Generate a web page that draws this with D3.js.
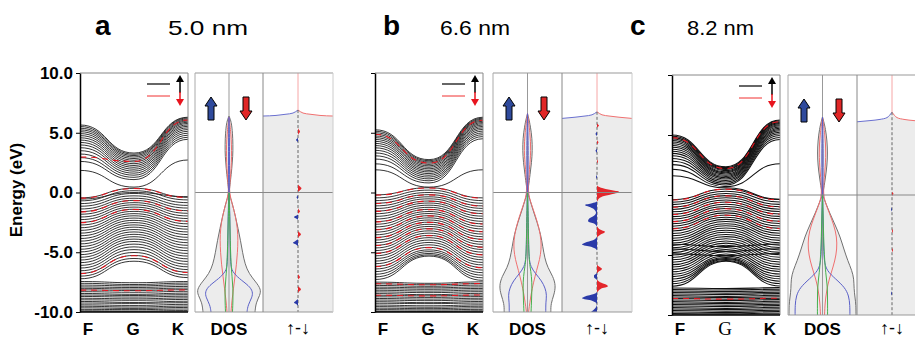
<!DOCTYPE html>
<html>
<head>
<meta charset="utf-8">
<script src="https://cdn.jsdelivr.net/npm/d3@7"></script>
<style>
body{margin:0;background:#fff}
svg{display:block;font-family:"Liberation Sans",Arial,sans-serif}
</style>
</head>
<body>
<svg id="fig" width="915" height="339"></svg>
<script>
// ---- data: band energies (eV) at F, G, K ----
var aCond = [[5.65,3.30,6.30],[5.52,3.20,6.24],[5.38,3.09,6.16],[5.24,2.97,6.07],[5.09,2.84,5.98],[4.93,2.70,5.88],
  [4.76,2.56,5.78],[4.58,2.41,5.66],[4.39,2.26,5.54],[4.19,2.11,5.41],[3.98,1.95,5.27],[3.75,1.79,5.12],
  [3.50,1.62,4.96],[3.22,1.45,4.79],[2.92,1.27,4.62],[2.60,1.08,4.45],[1.85,0.45,2.72]]
var aVal = [[-0.45,0.35,-0.40],[-0.70,0.15,-0.62],[-0.93,-0.08,-0.85],[-1.15,-0.28,-1.08],[-1.38,-0.48,-1.30],
  [-1.60,-0.66,-1.52],[-1.82,-0.85,-1.74],[-2.05,-1.03,-1.96],[-2.27,-1.22,-2.18],[-2.50,-1.40,-2.40],
  [-2.72,-1.58,-2.62],[-2.95,-1.77,-2.85],[-3.17,-1.95,-3.07],[-3.40,-2.14,-3.30],[-3.62,-2.33,-3.52],
  [-3.85,-2.52,-3.75],[-4.07,-2.71,-3.97],[-4.30,-2.90,-4.20],[-4.52,-3.10,-4.42],[-4.75,-3.30,-4.65],
  [-4.97,-3.50,-4.87],[-5.20,-3.70,-5.10],[-5.42,-3.90,-5.32],[-5.65,-4.10,-5.55],[-5.87,-4.32,-5.77],
  [-6.10,-4.55,-6.00],[-6.32,-4.78,-6.22],[-6.55,-5.02,-6.45],[-6.77,-5.27,-6.67],[-7.00,-5.52,-6.90],
  [-7.22,-5.75,-7.12],[-0.55,0.00,-0.35]]
var aDeep = [[-7.45,-7.55,-7.45],[-7.60,-7.70,-7.58],[-7.75,-7.82,-7.72],[-7.90,-7.95,-7.86],[-8.02,-8.08,-8.00],
  [-8.15,-8.20,-8.13],[-8.30,-8.35,-8.27],[-8.45,-8.52,-8.42],[-8.58,-8.62,-8.55],[-8.70,-8.75,-8.68],
  [-8.85,-8.90,-8.82],[-8.98,-9.02,-8.95],[-9.12,-9.20,-9.10],[-9.25,-9.28,-9.22],[-9.40,-9.45,-9.36],
  [-9.52,-9.58,-9.50],[-9.65,-9.70,-9.62],[-9.78,-9.80,-9.75],[-9.90,-9.92,-9.88],[-10.0,-10.0,-10.0]]
var aRed = [[-0.47,0.33,-0.42],[-1.62,-0.68,-1.54],[-2.52,-1.42,-2.42],[-6.79,-5.29,-6.69],[-8.17,-8.22,-8.15],[2.97,2.60,6.07]]

var bCond = [[5.25,2.75,6.30],[5.13,2.66,6.22],[5.00,2.56,6.14],[4.87,2.46,6.05],[4.73,2.35,5.96],[4.59,2.23,5.86],
  [4.44,2.11,5.76],[4.28,1.98,5.65],[4.11,1.85,5.53],[3.93,1.72,5.41],[3.74,1.58,5.28],[3.53,1.44,5.14],
  [3.31,1.29,4.99],[3.07,1.14,4.84],[2.80,0.98,4.68],[2.40,0.80,4.50],[1.90,0.45,1.90]]
var bVal = [[-0.20,0.40,-0.45],[-0.45,0.20,-0.68],[-0.68,0.00,-0.90],[-0.90,-0.18,-1.12],[-1.12,-0.36,-1.33],
  [-1.34,-0.53,-1.55],[-1.56,-0.71,-1.76],[-1.78,-0.88,-1.98],[-2.00,-1.06,-2.19],[-2.22,-1.24,-2.41],
  [-2.44,-1.41,-2.62],[-2.66,-1.59,-2.84],[-2.88,-1.76,-3.05],[-3.10,-1.94,-3.27],[-3.32,-2.12,-3.48],
  [-3.54,-2.30,-3.70],[-3.76,-2.48,-3.91],[-3.98,-2.66,-4.13],[-4.20,-2.84,-4.34],[-4.42,-3.02,-4.56],
  [-4.64,-3.21,-4.77],[-4.86,-3.40,-4.99],[-5.08,-3.59,-5.20],[-5.30,-3.78,-5.42],[-5.52,-3.98,-5.63],
  [-5.74,-4.18,-5.85],[-5.96,-4.38,-6.06],[-6.18,-4.59,-6.28],[-6.40,-4.80,-6.49],[-6.62,-4.95,-6.71],
  [-6.84,-5.10,-6.92],[-7.06,-5.22,-7.14],[-7.28,-5.32,-7.35]]
var bDeep = [[-7.50,-7.60,-7.48],[-7.64,-7.72,-7.62],[-7.78,-7.85,-7.75],[-7.92,-7.98,-7.90],[-8.05,-8.10,-8.03],
  [-8.18,-8.25,-8.16],[-8.32,-8.38,-8.30],[-8.46,-8.55,-8.44],[-8.60,-8.65,-8.58],[-8.73,-8.78,-8.71],
  [-8.87,-8.92,-8.85],[-9.00,-9.05,-8.98],[-9.14,-9.22,-9.12],[-9.27,-9.30,-9.25],[-9.42,-9.48,-9.40],
  [-9.55,-9.60,-9.52],[-9.68,-9.72,-9.65],[-9.80,-9.83,-9.78],[-9.92,-9.94,-9.90],[-10.0,-10.0,-10.0]]
var bRed = [[-0.22,0.38,-0.47],[-0.92,-0.20,-1.14],[-1.58,-0.73,-1.78],[-2.46,-1.43,-2.64],[-3.12,-1.96,-3.29],
  [-3.78,-2.50,-3.93],[-4.44,-3.04,-4.58],[-5.10,-3.61,-5.22],[-6.20,-4.61,-6.30],[-7.64,-7.72,-7.62],
  [-8.60,-8.65,-8.58],[4.87,2.46,6.05]]

var cCond = [[5.00,2.35,6.25],[4.89,2.28,6.18],[4.78,2.20,6.11],[4.66,2.12,6.03],[4.54,2.03,5.95],[4.41,1.94,5.86],
  [4.27,1.85,5.77],[4.13,1.75,5.67],[3.98,1.65,5.57],[3.82,1.55,5.46],[3.65,1.44,5.35],[3.47,1.33,5.23],
  [3.27,1.21,5.10],[3.05,1.09,4.96],[2.81,0.96,4.80],[2.53,0.83,4.62],[2.15,0.70,2.60],[1.60,0.60,-0.35]]
var cVal = [[-0.40,0.50,-0.38],[-0.60,0.32,-0.58],[-0.80,0.13,-0.78],[-1.00,-0.05,-0.98],[-1.20,-0.23,-1.18],
  [-1.40,-0.41,-1.38],[-1.60,-0.59,-1.58],[-1.80,-0.77,-1.78],[-2.00,-0.95,-1.98],[-2.20,-1.13,-2.18],
  [-2.40,-1.31,-2.38],[-2.60,-1.49,-2.58],[-2.80,-1.67,-2.78],[-3.00,-1.85,-2.98],[-3.20,-2.03,-3.18],
  [-3.40,-2.21,-3.38],[-3.60,-2.39,-3.58],[-3.80,-2.57,-3.78],[-4.00,-2.75,-3.98],[-4.20,-2.93,-4.18],
  [-4.40,-3.11,-4.38],[-4.60,-3.29,-4.58],[-4.80,-3.47,-4.78],[-5.00,-3.65,-4.98],[-5.20,-3.83,-5.18],
  [-5.40,-4.01,-5.38],[-5.60,-4.19,-5.58],[-5.80,-4.37,-5.78],[-6.00,-4.55,-5.98],[-6.20,-4.73,-6.18],
  [-6.40,-4.91,-6.38],[-6.60,-5.09,-6.58],[-6.80,-5.20,-6.78],[-7.00,-5.30,-6.98],[-7.20,-5.38,-7.18],
  [-7.40,-5.45,-7.38],[-7.60,-5.52,-7.58],[-4.10,-4.30,-4.08],[-4.50,-4.70,-4.48],[-4.90,-5.05,-4.88]]
var cDeep = [[-7.75,-7.80,-7.72],[-7.88,-7.92,-7.85],[-8.00,-8.05,-7.98],[-8.12,-8.18,-8.10],[-8.25,-8.30,-8.22],
  [-8.38,-8.45,-8.35],[-8.50,-8.55,-8.48],[-8.62,-8.68,-8.60],[-8.75,-8.80,-8.72],[-8.88,-8.95,-8.85],
  [-9.00,-9.05,-8.98],[-9.12,-9.18,-9.10],[-9.25,-9.30,-9.22],[-9.38,-9.45,-9.35],[-9.50,-9.55,-9.48],
  [-9.62,-9.68,-9.60],[-9.75,-9.80,-9.72],[-9.88,-9.90,-9.85],[-10.0,-10.0,-10.0]]
var cRed = [[-0.42,0.48,-0.40],[-1.02,-0.07,-1.00],[-1.62,-0.61,-1.60],[-2.22,-1.15,-2.20],[-2.82,-1.69,-2.80],
  [-8.62,-8.68,-8.60],[4.78,2.20,6.11]]

// ---- DOS half widths [E, width] ----
var aDosTotal = [[6.4,0],[6.2,1],[5.8,2.5],[5,3.5],[4,4],[3,3.8],[2,2.8],[1,1.5],[0.3,0.5],[0,0],[-0.3,1],[-1,3.5],
  [-2,6.5],[-3,9],[-4,11.5],[-5,13.5],[-6,16],[-6.8,20],[-7.5,27],[-8.1,32],[-8.6,31],[-9.2,27],[-10,26]]
var aDosRed = [[6.3,0],[5,2],[3,3],[1,1.2],[0,0],[-1,3.5],[-2,6.5],[-3,8.5],[-4,9],[-5,8.5],[-6,7.5],[-7,6],[-8,4.5],[-9,3],[-10,2]]
var aDosBlue = [[6.3,0],[3,0.8],[0,0],[-2,1],[-4,1.2],[-6,1.5],[-6.6,3],[-7.2,10],[-7.8,20],[-8.3,24],[-8.8,23],[-9.4,19],[-10,18]]
var aDosGreen = [[0,0],[-2,0.7],[-4,1.2],[-6,2],[-7,3],[-8,4],[-9,4],[-10,3.5]]

var bDosTotal = [[6.6,0],[6.3,1],[5.5,3],[4.5,4.5],[3.5,4.8],[2.5,4],[1.5,2.5],[0.5,1],[0,0],[-0.5,2],[-1.5,5.5],
  [-2.5,9.5],[-3.5,13],[-4.5,15],[-5.5,17],[-6.3,20],[-7,25],[-7.8,28],[-8.6,26],[-9.3,23],[-10,23]]
var bDosRed = [[6.6,0],[5,2.5],[3.5,3.5],[2,2],[0,0],[-1,4],[-2,8],[-3,11.5],[-4,13.5],[-4.8,13.5],[-5.6,12],[-6.5,9],
  [-7.5,6],[-8.5,3.5],[-10,1]]
var bDosBlue = [[6.6,0],[3,1],[0,0],[-2,0.8],[-4,1],[-5.5,1.5],[-6.2,3],[-6.8,8],[-7.4,14],[-8,17.5],[-8.6,19],[-9.2,18],[-10,18]]
var bDosGreen = [[0,0],[-2,0.6],[-4,1],[-5.5,1.5],[-6.2,2.5],[-7,4],[-8,4.5],[-9,4],[-10,3.5]]

var cDosTotal = [[6.5,0],[6.2,1],[5.5,3],[4.5,4.5],[3.5,5],[2.5,4.5],[1.5,3],[0.5,1.2],[0,0],[-0.5,2.5],[-1.5,7],
  [-2.5,12.5],[-3.5,17.5],[-4.5,21],[-5.5,25],[-6.3,29],[-7,31],[-7.8,31],[-8.5,32],[-9.2,33],[-10,33]]
var cDosRed = [[6.5,0],[5,2.5],[3.5,3.5],[2,2.5],[0,0],[-1,4.5],[-2,9],[-3,13],[-4,14.5],[-5,13.5],[-6,10.5],[-7,6.5],
  [-8,4],[-9,2.5],[-10,2]]
var cDosBlue = [[6.5,0],[3,1],[0,0],[-2,0.8],[-4,1],[-5.5,1.5],[-6.3,4],[-7,13],[-7.7,22],[-8.4,26],[-9.2,27],[-10,27]]
var cDosGreen = [[0,0],[-2,0.7],[-4,1.2],[-6,2.5],[-7,4],[-8,5],[-9,5],[-10,5]]

// ---- spin difference (up - down): [E, value]; edge of the filled region: [value, E] ----
var aDiff = [[6.9,0],[5.4,0],[5.1,2],[4.8,0],[4.6,0],[4.4,-2],[4.2,0],[0.7,0],[0.5,2],[0.35,3.5],[0.15,1.5],[0.05,0],
  [-0.2,0],[-0.4,-1.5],[-0.6,0],[-1.3,0],[-1.6,2],[-1.8,0],[-1.85,0],[-1.95,-2],[-2.05,-4],[-2.2,-1.5],[-2.3,0],
  [-3.2,0],[-3.5,3],[-3.8,0],[-3.9,0],[-4.05,-2.5],[-4.2,-5],[-4.35,-2],[-4.5,0],[-6.8,0],[-7.1,2],[-7.3,0],[-7.8,0],
  [-8.1,3],[-8.4,0],[-8.9,0],[-9.05,-2],[-9.2,-4],[-9.35,-1.5],[-9.5,0],[-10,0]]
var bDiff = [[6.7,0],[5.8,0],[5.6,2],[5.4,0],[5.1,0],[4.9,-1.5],[4.7,0],[4.4,0],[4.2,1.5],[4.0,0],[3.7,0],[3.5,-1.5],
  [3.3,0],[2.8,0],[2.6,1],[2.4,0],[1.5,0],[1.3,-1],[1.1,0],[0.6,0],[0.4,4],[0.2,14],[0.05,22],[-0.1,17],[-0.3,7],
  [-0.5,2],[-0.75,0],[-0.9,-5],[-1.05,-12],[-1.2,-8],[-1.4,-3],[-1.7,-1],[-1.95,-3],[-2.2,-8],[-2.4,-9],[-2.6,-3],
  [-2.85,0],[-3.1,3],[-3.3,8],[-3.5,4],[-3.75,0],[-4.0,-4],[-4.2,-12],[-4.35,-15],[-4.55,-6],[-4.85,0],[-6.0,0],
  [-6.2,2],[-6.4,5],[-6.6,2],[-6.75,0],[-6.95,-3],[-7.1,-3],[-7.3,0],[-7.5,3],[-7.7,9],[-7.85,11],[-8.05,4],
  [-8.35,0],[-8.5,-3],[-8.7,-12],[-8.85,-15],[-9.05,-5],[-9.35,0],[-9.7,-2],[-10,-6]]
var cDiff = [[6.9,0],[0.3,0],[0.1,1.5],[-0.1,0],[-1,0],[-1.2,-1],[-1.4,0],[-2.8,0],[-3,1],[-3.2,0],[-4.4,0],[-4.6,1],
  [-4.8,0],[-8,0],[-8.2,-1],[-8.4,0],[-10,0]]
var aEdge = [[-35,6.4],[-22,6.45],[-12,6.55],[-5,6.65],[0,6.9],[5,6.65],[12,6.55],[22,6.45],[35,6.4]]
var bEdge = [[-35,6.2],[-22,6.3],[-12,6.4],[-5,6.5],[0,6.75],[5,6.5],[12,6.4],[22,6.3],[35,6.2]]
var cEdge = [[-35,6.1],[-22,6.2],[-12,6.3],[-5,6.45],[0,6.9],[5,6.45],[12,6.3],[22,6.2],[35,6.1]]

var yTicks = [-10, -5, 0, 5, 10]
var kPos = [0, 0.5, 1]
var kNames = ['F', 'G', 'K']

var panels = [
  {id:'a', size:'5.0 nm', band:[80,188], dos:[195,263], diff:[263,333], top:73, bottom:312, letterX:95, sizeX:168, sizeLen:80,
   cond:aCond, val:aVal, deep:aDeep, red:aRed, dosTotal:aDosTotal, dosRed:aDosRed, dosBlue:aDosBlue, dosGreen:aDosGreen,
   diffData:aDiff, edge:aEdge, labels:true, lw:0.85},
  {id:'b', size:'6.6 nm', band:[375,483], dos:[493,562], diff:[562,632], top:73, bottom:312, letterX:383, sizeX:440, sizeLen:70,
   cond:bCond, val:bVal, deep:bDeep, red:bRed, dosTotal:bDosTotal, dosRed:bDosRed, dosBlue:bDosBlue, dosGreen:bDosGreen,
   diffData:bDiff, edge:bEdge, labels:false, lw:0.85},
  {id:'c', size:'8.2 nm', band:[672,780], dos:[788,857], diff:[857,927], top:75, bottom:315, letterX:630, sizeX:687, sizeLen:67,
   cond:cCond, val:cVal, deep:cDeep, red:cRed, dosTotal:cDosTotal, dosRed:cDosRed, dosBlue:cDosBlue, dosGreen:cDosGreen,
   diffData:cDiff, edge:cEdge, labels:false, serifG:true, lw:1.05}
]

var svg = d3.select('#fig')
var defs = svg.append('defs')

panels.forEach(function (p) {
  var y = d3.scaleLinear().domain([-10, 10]).range([p.bottom, p.top])
  var k = d3.scaleLinear().domain([0, 1]).range(p.band)
  var xd = d3.scaleLinear().domain([-34, 34]).range(p.dos)
  var xf = d3.scaleLinear().domain([-35, 35]).range(p.diff)
  var g = svg.append('g')

  // titles
  g.append('text').attr('x', p.letterX).attr('y', 35).attr('font-size', 28).attr('font-weight', 'bold').text(p.id)
  g.append('text').attr('x', p.sizeX).attr('y', 35).attr('font-size', 21)
    .attr('textLength', p.sizeLen).attr('lengthAdjust', 'spacingAndGlyphs').text(p.size)

  // ---- band structure ----
  defs.append('clipPath').attr('id', 'clip-' + p.id).append('rect')
    .attr('x', p.band[0]).attr('y', p.top).attr('width', p.band[1] - p.band[0]).attr('height', p.bottom - p.top)
  var band = d3.line().x(function (d, i) { return k(kPos[i]) }).y(function (d) { return y(d) }).curve(d3.curveBumpX)
  var bg = g.append('g').attr('clip-path', 'url(#clip-' + p.id + ')')
  bg.selectAll('path.up').data(p.cond.concat(p.val, p.deep)).enter().append('path')
    .attr('class', 'up').attr('d', band).attr('fill', 'none').attr('stroke', '#111').attr('stroke-width', p.lw)
  bg.selectAll('path.dn').data(p.red).enter().append('path')
    .attr('class', 'dn').attr('d', band).attr('fill', 'none').attr('stroke', '#e8141e').attr('stroke-width', 1.1)
    .attr('stroke-dasharray', '6 5')

  g.append('line').attr('x1', p.band[0]).attr('x2', p.band[1]).attr('y1', p.top).attr('y2', p.top).attr('stroke', '#888')
  g.append('line').attr('x1', p.band[1]).attr('x2', p.band[1]).attr('y1', p.top).attr('y2', p.bottom).attr('stroke', '#888')
  g.append('line').attr('x1', p.band[0]).attr('x2', p.band[1]).attr('y1', p.bottom).attr('y2', p.bottom).attr('stroke', '#000').attr('stroke-width', 1.5)

  var ax = g.append('g').attr('transform', 'translate(' + p.band[0] + ',0)')
    .call(d3.axisLeft(y).tickValues(yTicks).tickSize(4).tickSizeOuter(0)
      .tickFormat(p.labels ? function (d) { return d.toFixed(1) } : ''))
  ax.select('.domain').attr('stroke', '#000').attr('stroke-width', 1.5)
  ax.selectAll('line').attr('stroke', '#000')
  ax.selectAll('text').attr('font-size', 17).attr('font-weight', 'bold').attr('fill', '#000')
    .attr('font-family', '"Liberation Sans",Arial,sans-serif')

  // legend
  var R = p.band[1], T = p.top
  g.append('line').attr('x1', R - 41).attr('x2', R - 18).attr('y1', T + 11).attr('y2', T + 11).attr('stroke', '#333').attr('stroke-width', 1.5)
  g.append('line').attr('x1', R - 41).attr('x2', R - 18).attr('y1', T + 23).attr('y2', T + 23).attr('stroke', '#f03030').attr('stroke-width', 1)
  g.append('line').attr('x1', R - 8).attr('x2', R - 8).attr('y1', T + 20).attr('y2', T + 7).attr('stroke', '#000').attr('stroke-width', 1.5)
  g.append('path').attr('d', 'M' + (R - 8) + ',' + (T + 2) + 'l4,7h-8z').attr('fill', '#000')
  g.append('line').attr('x1', R - 8).attr('x2', R - 8).attr('y1', T + 19).attr('y2', T + 28).attr('stroke', '#e8141e').attr('stroke-width', 1.5)
  g.append('path').attr('d', 'M' + (R - 8) + ',' + (T + 33) + 'l4,-7h-8z').attr('fill', '#e8141e')

  // ---- DOS ----
  var dosArea = d3.area().y(function (d) { return y(d[0]) })
    .x0(function (d) { return xd(-d[1]) }).x1(function (d) { return xd(d[1]) }).curve(d3.curveBasis)
  g.append('path').datum(p.dosTotal).attr('d', dosArea).attr('fill', '#ececec')
  var cx = xd(0)
  g.append('line').attr('x1', cx).attr('x2', cx).attr('y1', p.top).attr('y2', p.bottom).attr('stroke', '#999')
  var curves = [[p.dosTotal, '#707070'], [p.dosRed, '#f07070'], [p.dosBlue, '#5a60c8'], [p.dosGreen, '#45b04c']]
  curves.forEach(function (c) {
    [-1, 1].forEach(function (s) {
      var ln = d3.line().y(function (d) { return y(d[0]) }).x(function (d) { return xd(s * d[1]) }).curve(d3.curveBasis)
      g.append('path').datum(c[0]).attr('d', ln).attr('fill', 'none').attr('stroke', c[1]).attr('stroke-width', 1)
    })
  })

  // ---- spin difference panel ----
  var edgeArea = d3.area().x(function (d) { return xf(d[0]) }).y0(p.bottom).y1(function (d) { return y(d[1]) }).curve(d3.curveMonotoneX)
  g.append('path').datum(p.edge).attr('d', edgeArea).attr('fill', '#ececec')
  var edgeLine = d3.line().x(function (d) { return xf(d[0]) }).y(function (d) { return y(d[1]) }).curve(d3.curveMonotoneX)
  g.append('path').datum(p.edge.filter(function (d) { return d[0] <= 0 })).attr('d', edgeLine).attr('fill', 'none').attr('stroke', '#6a70d0')
  g.append('path').datum(p.edge.filter(function (d) { return d[0] >= 0 })).attr('d', edgeLine).attr('fill', 'none').attr('stroke', '#f07070')
  var fx = xf(0)
  var peakE = d3.max(p.edge, function (d) { return d[1] })
  g.append('line').attr('x1', fx).attr('x2', fx).attr('y1', p.top).attr('y2', y(peakE)).attr('stroke', '#f6a6a6')
  g.append('line').attr('x1', fx).attr('x2', fx).attr('y1', y(peakE)).attr('y2', p.bottom).attr('stroke', '#666').attr('stroke-dasharray', '3 2')

  ;[['L', p.diff[0], fx, '#2a3aa8'], ['R', fx, p.diff[1], '#e3262b']].forEach(function (h) {
    defs.append('clipPath').attr('id', 'half-' + p.id + h[0]).append('rect')
      .attr('x', h[1]).attr('y', p.top).attr('width', h[2] - h[1]).attr('height', p.bottom - p.top)
    var diffArea = d3.area().y(function (d) { return y(d[0]) }).x0(fx).x1(function (d) { return xf(d[1]) }).curve(d3.curveMonotoneY)
    g.append('path').datum(p.diffData).attr('d', diffArea).attr('fill', h[3])
      .attr('clip-path', 'url(#half-' + p.id + h[0] + ')')
  })

  // grid and frame of DOS / difference panels
  g.append('line').attr('x1', p.dos[0]).attr('x2', p.diff[1]).attr('y1', y(0)).attr('y2', y(0)).attr('stroke', '#888')
  g.append('line').attr('x1', p.dos[0]).attr('x2', p.diff[1]).attr('y1', p.top).attr('y2', p.top).attr('stroke', '#999')
  g.append('line').attr('x1', p.dos[0]).attr('x2', p.diff[1]).attr('y1', p.bottom).attr('y2', p.bottom).attr('stroke', '#999')
  g.append('line').attr('x1', p.dos[0]).attr('x2', p.dos[0]).attr('y1', p.top).attr('y2', p.bottom).attr('stroke', '#aaa')
  g.append('line').attr('x1', p.dos[1]).attr('x2', p.dos[1]).attr('y1', p.top).attr('y2', p.bottom).attr('stroke', '#888')
  g.append('line').attr('x1', p.diff[1]).attr('x2', p.diff[1]).attr('y1', p.top).attr('y2', p.bottom).attr('stroke', '#ccc')

  // block arrows for spin up / down
  var bx = p.dos[0] + 16, rx = p.dos[0] + 51, ay = p.top + 24
  g.append('path').attr('d', 'M' + bx + ',' + ay + 'l6,9h-3v14h-6v-14h-3z').attr('fill', '#2f4a9c').attr('stroke', '#000').attr('stroke-width', 1)
  g.append('path').attr('d', 'M' + rx + ',' + (ay + 23) + 'l6,-9h-3v-14h-6v14h-3z').attr('fill', '#e02626').attr('stroke', '#000').attr('stroke-width', 1)

  // bottom labels
  kNames.forEach(function (n, i) {
    var t = g.append('text').attr('x', p.band[0] + 8 + i * 45).attr('y', 335).attr('text-anchor', 'middle').text(n)
    if (p.serifG && n === 'G') t.attr('font-family', '"Liberation Serif",serif').attr('font-size', 19)
    else t.attr('font-size', 17).attr('font-weight', 'bold')
  })
  g.append('text').attr('x', cx).attr('y', 335).attr('text-anchor', 'middle').attr('font-size', 17).attr('font-weight', 'bold').text('DOS')
  g.append('text').attr('x', fx).attr('y', 334).attr('text-anchor', 'middle').attr('font-size', 18)
    .attr('fill', '#000').text('\u2191-\u2193')
})

svg.append('text').attr('transform', 'translate(22,190) rotate(-90)').attr('text-anchor', 'middle')
  .attr('font-size', 17).attr('font-weight', 'bold').text('Energy (eV)')
</script>
</body>
</html>
